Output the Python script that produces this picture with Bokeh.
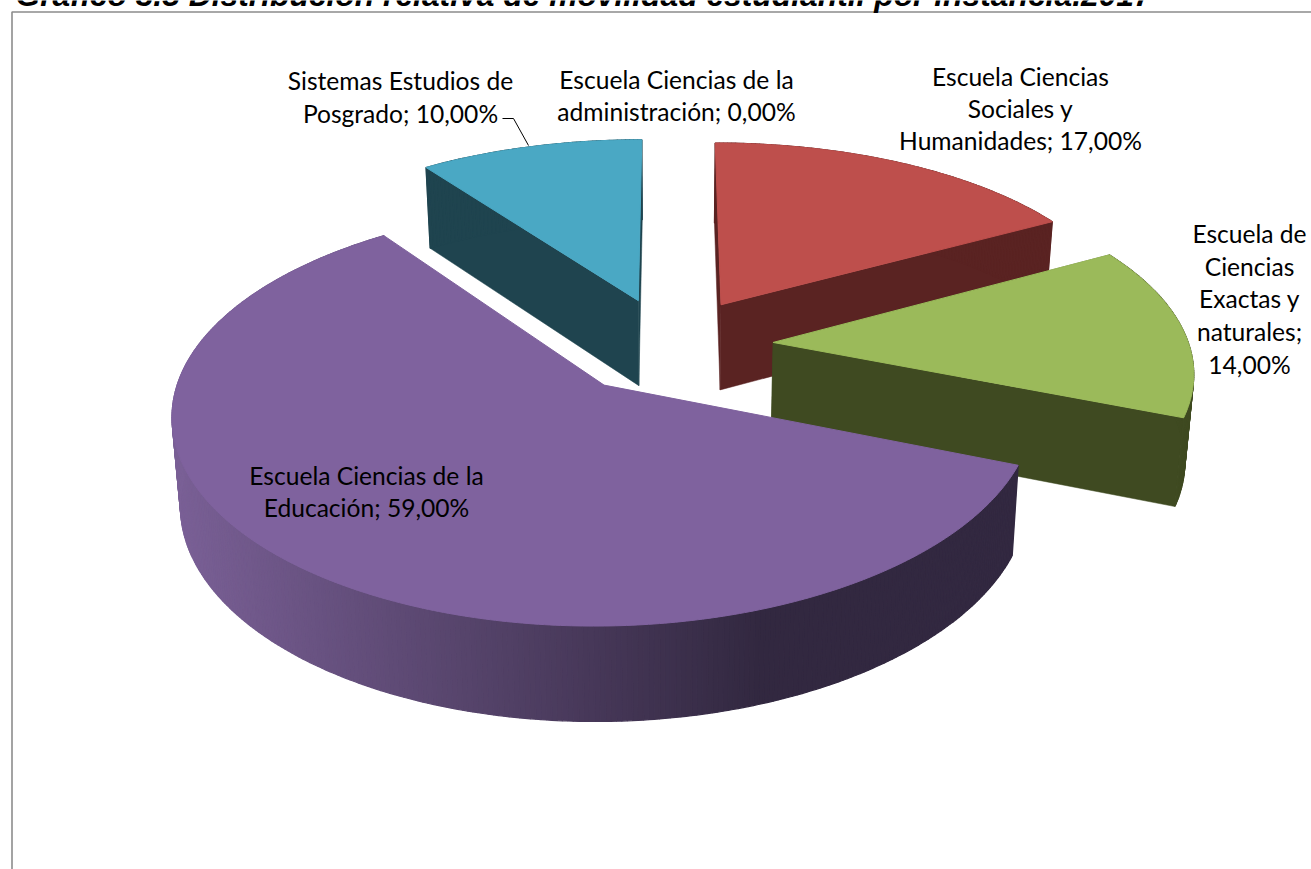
import numpy as np
from bokeh.plotting import figure
from bokeh.models import Range1d
from bokeh.core.properties import value
from bokeh.embed import file_html
from bokeh.resources import INLINE

# --- data ---
title_text = "Gráfico 3.5 Distribución relativa de movilidad estudiantil por instancia.2017"
categories = ["Escuela Ciencias de la administración", "Escuela Ciencias Sociales y Humanidades",
              "Escuela de Ciencias Exactas y naturales", "Escuela Ciencias de la Educación",
              "Sistemas Estudios de Posgrado"]
shares = [0.0, 17.0, 14.0, 59.0, 10.0]
label_lines = [["Escuela Ciencias de la", "administración; {}"],
               ["Escuela Ciencias", "Sociales y", "Humanidades; {}"],
               ["Escuela de", "Ciencias", "Exactas y", "naturales;", "{}"],
               ["Escuela Ciencias de la", "Educación; {}"],
               ["Sistemas Estudios de", "Posgrado; {}"]]
label_x = [676, 1020, 1249, 366, 400]
label_first_y = [79, 76, 233, 475, 80]
label_pitch = [32, 32, 32.7, 32, 33]
top_colors = ["#F79646", "#BE4F4C", "#9BBA5A", "#7F629E", "#4AA8C4"]
side_colors = ["#7F4A20", "#5A2322", "#3F4A21", None, "#1F444F"]
draw_order = [4, 1, 2, 3]

# --- 3D pie geometry (perspective projection of a flat disc) ---
CX, CY, RX, RY, PERSP_X, PERSP_Y, EXPLODE = 669.0, 345.0, 416.0, 195.0, 0.13, 0.14, 0.25


def project(u, v, low=False):
    x = RX * u / (1.0 - PERSP_X * v)
    y = RY * v / (1.0 - PERSP_Y * v)
    if low:
        return CX + 0.983 * x, CY + y + 85 + 0.032 * (y + 45)
    return CX + x, CY + y


p = figure(width=1311, height=869, output_backend="svg", toolbar_location=None,
           x_range=Range1d(0, 1311), y_range=Range1d(869, 0), min_border=0,
           outline_line_color=None, background_fill_color="white")
p.axis.visible = False
p.grid.visible = False

# chart frame
p.line([11.5, 11.5, 1311], [869, 11.5, 11.5], line_color="#8C8C8C", line_width=1.6)

edges = np.cumsum([0.0] + shares) / 100.0 * 2 * np.pi
c_l, c_r = np.array([122, 96, 150]), np.array([50, 40, 64])
for i in draw_order:
    a0, a1 = edges[i], edges[i + 1]
    mid = (a0 + a1) / 2
    ou, ov = EXPLODE * np.sin(mid), -EXPLODE * np.cos(mid)
    t = np.linspace(a0, a1, max(int((a1 - a0) * 90), 12))
    ru, rv = ou + np.sin(t), ov - np.cos(t)
    tx, ty = project(ru, rv)
    bx, by = project(ru, rv, low=True)
    ax, ay = project(ou, ov)
    alx, aly = project(ou, ov, low=True)
    xs, ys, cols = [], [], []
    for j in range(len(t) - 1):
        if side_colors[i] is None:
            # shaded wall: dark towards the right
            f = np.clip((tx[j] - 175) / (766 - 175), 0, 1)
            cols.append("#%02x%02x%02x" % tuple((c_l + (c_r - c_l) * f).astype(int)))
        else:
            cols.append(side_colors[i])
        xs.append([tx[j], tx[j + 1], bx[j + 1], bx[j]])
        ys.append([ty[j], ty[j + 1], by[j + 1], by[j]])
    if side_colors[i] is not None:
        for k in (0, -1):
            p.patch([ax, tx[k], bx[k], alx], [ay, ty[k], by[k], aly],
                    fill_color=side_colors[i], line_color=side_colors[i], line_width=0.5)
    p.patches(xs, ys, fill_color=cols, line_color=cols, line_width=1.2)
    p.patch([ax] + list(tx), [ay] + list(ty), fill_color=top_colors[i],
            line_color=top_colors[i], line_width=1)

# leader line of the Posgrado label
p.line([502, 513, 528], [118, 118, 145], line_color="black", line_width=1)

# data labels
for i, lines in enumerate(label_lines):
    val = ("%.2f%%" % shares[i]).replace(".", ",")
    for n, ln in enumerate(lines):
        p.text([label_x[i]], [label_first_y[i] + n * label_pitch[i]], text=[ln.format(val)],
               text_font=value("Lato"), text_font_size="24.6px", text_color="black",
               text_align="center", text_baseline="middle")

p.text([15], [-6], text=[title_text], text_font=value("Liberation Sans"),
       text_font_style="bold italic", text_font_size="31.8px", text_color="black",
       text_align="left", text_baseline="alphabetic")

open("out.html", "w").write(file_html(p, INLINE))
